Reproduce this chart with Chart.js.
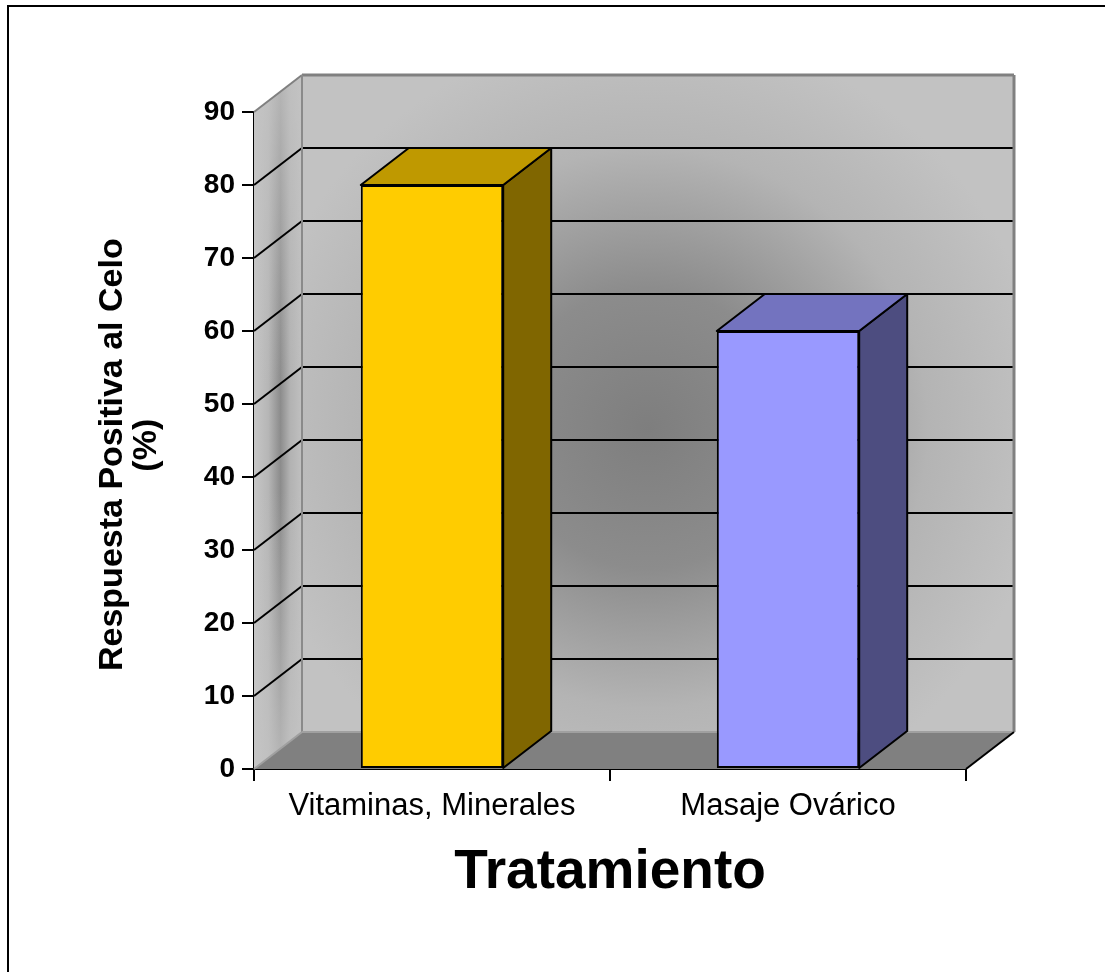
<!DOCTYPE html>
<html>
<head>
<meta charset="utf-8">
<script src="https://cdn.jsdelivr.net/npm/chart.js@4/dist/chart.umd.min.js"></script>
<style>
  html, body { margin: 0; padding: 0; background: #ffffff; }
  #wrap { position: relative; width: 1105px; height: 972px; }
</style>
</head>
<body>
<div id="wrap"><canvas id="c" width="1105" height="972"></canvas></div>
<script>
// ---- data ----
const categories = ['Vitaminas, Minerales', 'Masaje Ovárico'];
const values = [80, 60];
const yTickValues = [0, 10, 20, 30, 40, 50, 60, 70, 80, 90];
const yTitleLines = ['Respuesta Positiva al Celo\u00a0\u00a0\u00a0', '(%)\u00a0'];
const xTitleText = 'Tratamiento';

// ---- styles ----
const frontColors = ['#FFCC00', '#9999FF'];
const topColors = ['#BF9900', '#7373BF'];
const sideColors = ['#806600', '#4D4D80'];
const FONT = "'Liberation Sans', Arial, Helvetica, sans-serif";
const DEPTH = { dx: 48, dy: -37 };

function seg(ctx, x1, y1, x2, y2, color, w) {
  ctx.beginPath();
  ctx.moveTo(x1, y1);
  ctx.lineTo(x2, y2);
  ctx.strokeStyle = color;
  ctx.lineWidth = w;
  ctx.stroke();
}

const threeD = {
  id: 'threeD',
  beforeDraw(chart) {
    const ctx = chart.ctx;
    ctx.save();
    ctx.fillStyle = '#ffffff';
    ctx.fillRect(0, 0, chart.width, chart.height);
    // page frame (only left and top edges are inside the picture)
    ctx.strokeStyle = '#000000';
    ctx.lineWidth = 2;
    ctx.beginPath();
    ctx.moveTo(8, chart.height);
    ctx.lineTo(8, 6);
    ctx.lineTo(chart.width, 6);
    ctx.stroke();
    ctx.restore();
  },
  beforeDatasetsDraw(chart) {
    const { ctx, chartArea: a, scales: { y } } = chart;
    const dx = DEPTH.dx, dy = DEPTH.dy;
    const L = a.left, R = a.right, T = a.top, B = a.bottom;
    const bl = L + dx, br = R + dx, bt = T + dy, bb = B + dy;
    ctx.save();
    ctx.lineJoin = 'round';

    // back wall
    const cx = (bl + br) / 2 - 10, cy = (bt + bb) / 2 + 25;
    const g = ctx.createRadialGradient(cx, cy, 0, cx, cy, 400);
    g.addColorStop(0, '#7e7e7e');
    g.addColorStop(0.35, '#8c8c8c');
    g.addColorStop(0.7, '#b4b4b4');
    g.addColorStop(1, '#c2c2c2');
    ctx.fillStyle = g;
    ctx.fillRect(bl, bt, br - bl, bb - bt);

    // left side wall
    ctx.beginPath();
    ctx.moveTo(L, T); ctx.lineTo(bl, bt); ctx.lineTo(bl, bb); ctx.lineTo(L, B); ctx.closePath();
    const lg = ctx.createLinearGradient(L, 0, bl, 0);
    lg.addColorStop(0, '#c6c6c6');
    lg.addColorStop(0.3, '#b6b6b6');
    lg.addColorStop(0.55, '#8c8c8c');
    lg.addColorStop(0.75, '#b2b2b2');
    lg.addColorStop(1, '#c0c0c0');
    ctx.fillStyle = lg;
    ctx.fill();
    const vg = ctx.createLinearGradient(0, bt, 0, B);
    vg.addColorStop(0, 'rgba(196,196,196,0.75)');
    vg.addColorStop(0.45, 'rgba(196,196,196,0)');
    vg.addColorStop(0.6, 'rgba(196,196,196,0)');
    vg.addColorStop(1, 'rgba(196,196,196,0.75)');
    ctx.fillStyle = vg;
    ctx.fill();

    // floor
    ctx.beginPath();
    ctx.moveTo(L, B); ctx.lineTo(bl, bb); ctx.lineTo(br, bb); ctx.lineTo(R, B); ctx.closePath();
    ctx.fillStyle = '#808080';
    ctx.fill();

    // gridlines
    const top = yTickValues[yTickValues.length - 1];
    yTickValues.forEach(v => {
      if (v <= yTickValues[0] || v >= top) return;
      const py = y.getPixelForValue(v);
      seg(ctx, L, py, bl, py + dy, '#000000', 2);
      seg(ctx, bl, py + dy, br, py + dy, '#000000', 2);
    });

    // wall edges
    seg(ctx, L, T, bl, bt, '#808080', 2);
    seg(ctx, bl, bt, br, bt, '#808080', 3);
    seg(ctx, br, bt, br, bb, '#808080', 3);
    seg(ctx, bl, bt, bl, bb, '#8a8a8a', 2);
    seg(ctx, bl, bb, br, bb, '#a0a0a0', 2);
    seg(ctx, L, B, bl, bb, '#a0a0a0', 2);
    seg(ctx, R, B, br, bb, '#000000', 2);

    // bar top and side faces
    chart.getDatasetMeta(0).data.forEach((bar, i) => {
      const p = bar.getProps(['x', 'y', 'base', 'width'], true);
      const l = p.x - p.width / 2, r = p.x + p.width / 2;
      const t = p.y, b = p.base;
      ctx.lineWidth = 2;
      ctx.strokeStyle = '#000000';
      // side
      ctx.beginPath();
      ctx.moveTo(r, t); ctx.lineTo(r + dx, t + dy); ctx.lineTo(r + dx, b + dy); ctx.lineTo(r, b); ctx.closePath();
      ctx.fillStyle = sideColors[i];
      ctx.fill(); ctx.stroke();
      // top
      ctx.beginPath();
      ctx.moveTo(l, t); ctx.lineTo(l + dx, t + dy); ctx.lineTo(r + dx, t + dy); ctx.lineTo(r, t); ctx.closePath();
      ctx.fillStyle = topColors[i];
      ctx.fill(); ctx.stroke();
    });
    ctx.restore();
  }
};

new Chart(document.getElementById('c'), {
  type: 'bar',
  data: {
    labels: categories,
    datasets: [{
      data: values,
      backgroundColor: frontColors,
      borderColor: '#000000',
      borderWidth: 2,
      borderSkipped: false,
      barPercentage: 0.4,
      categoryPercentage: 1.0
    }]
  },
  options: {
    responsive: false,
    animation: false,
    events: [],
    layout: { padding: { top: 112, right: 139, left: 0, bottom: 0 } },
    plugins: { legend: { display: false }, tooltip: { enabled: false } },
    scales: {
      x: {
        grid: { offset: true, drawOnChartArea: false, drawTicks: true, tickLength: 12, color: '#000000', lineWidth: 2 },
        border: { display: true, color: '#000000', width: 2 },
        ticks: { color: '#000000', font: { family: FONT, size: 31 }, padding: 7, maxRotation: 0, autoSkip: false },
        title: {
          display: true, text: xTitleText, color: '#000000',
          font: { family: FONT, size: 55, weight: 'bold', lineHeight: 1.2 },
          padding: { top: 0, bottom: 66 }
        },
        afterFit(s) { s.height = 203; }
      },
      y: {
        min: yTickValues[0],
        max: yTickValues[yTickValues.length - 1],
        ticks: { stepSize: yTickValues[1] - yTickValues[0], color: '#000000', font: { family: FONT, size: 28, weight: 'bold' }, padding: 7 },
        grid: { drawOnChartArea: false, drawTicks: true, tickLength: 12, color: '#000000', lineWidth: 2 },
        border: { display: true, color: '#000000', width: 2 },
        title: {
          display: true, text: yTitleLines, color: '#000000',
          font: { family: FONT, size: 34, weight: 'bold', lineHeight: 1.0 },
          padding: { top: 96, bottom: 0 }
        },
        afterFit(s) { s.width = 254; }
      }
    }
  },
  plugins: [threeD]
});
</script>
</body>
</html>
